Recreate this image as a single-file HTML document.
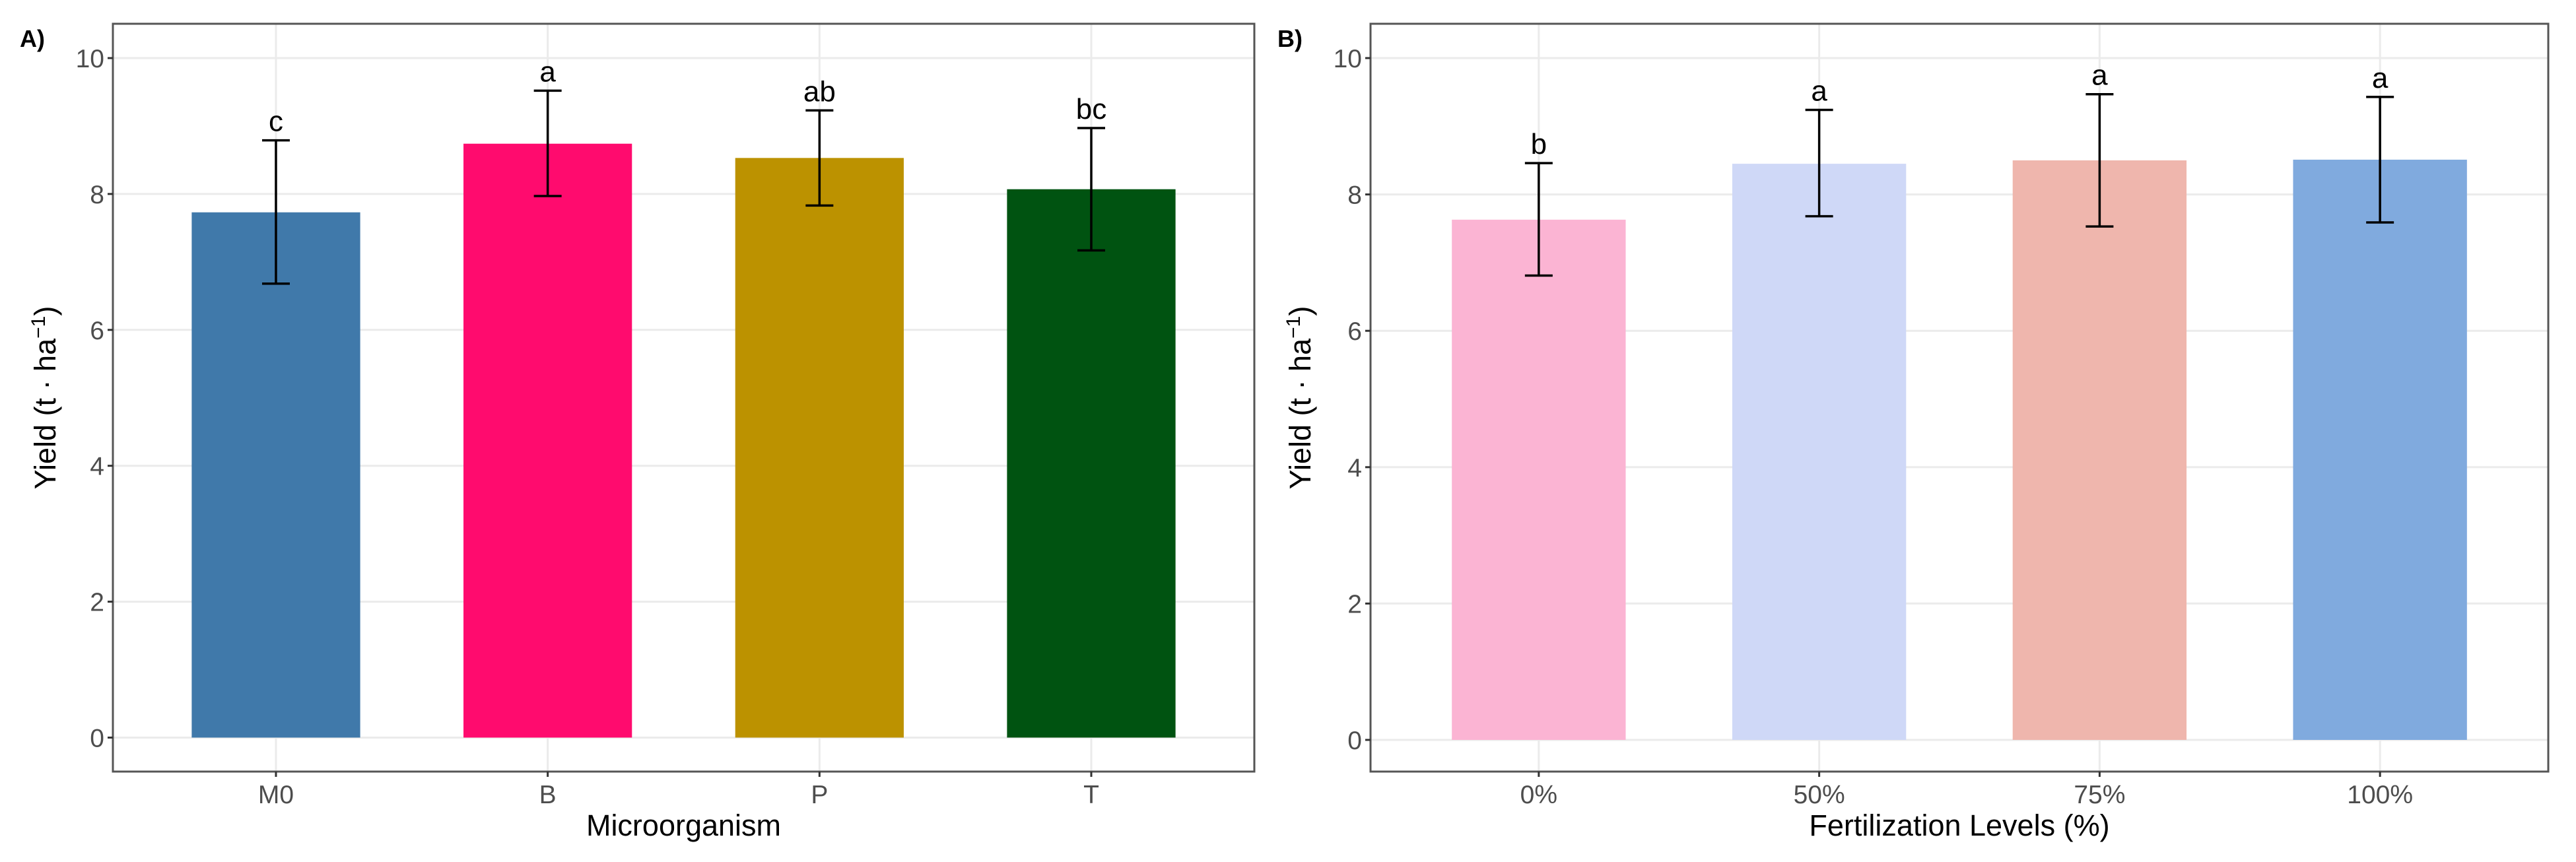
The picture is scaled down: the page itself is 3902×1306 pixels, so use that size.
<!DOCTYPE html>
<html><head><meta charset="utf-8"><style>
html,body{margin:0;padding:0;background:#fff;}
svg{display:block;font-family:"Liberation Sans",Arial,sans-serif;}
</style></head><body>
<svg id="fig" width="3902" height="1306" viewBox="0 0 3902 1306" xmlns="http://www.w3.org/2000/svg"></svg>
<script>
const catsA = ["M0","B","P","T"];
const meansA = [7.73, 8.74, 8.53, 8.07];
const upA = [8.79, 9.52, 9.23, 8.97];
const loA = [6.68, 7.97, 7.83, 7.17];
const lettersA = ["c","a","ab","bc"];
const colorsA = ["#4079aa","#ff0b6e","#bc9200","#005311"];

const catsB = ["0%","50%","75%","100%"];
const meansB = [7.63, 8.45, 8.50, 8.51];
const upB = [8.46, 9.24, 9.47, 9.43];
const loB = [6.81, 7.68, 7.53, 7.59];
const lettersB = ["b","a","a","a"];
const colorsB = ["#fbb4d3","#cfd8f7","#efb6ad","#80aade"];

const yTicks = [0,2,4,6,8,10];

const NS = "http://www.w3.org/2000/svg";
const svg = document.getElementById("fig");
function mk(tag, attrs, parent, text){
  const e = document.createElementNS(NS, tag);
  for (const k in attrs) e.setAttribute(k, attrs[k]);
  if (text !== undefined) e.textContent = text;
  (parent||svg).appendChild(e);
  return e;
}

function panel(cfg){
  const g = mk("g", {});
  
  
  const L=cfg.left, R=cfg.right, T=36, B=1169;
  const y0=cfg.y0, y10=cfg.y10;
  const yS = v => y0 + (y10 - y0) * v / 10;
  const n = cfg.cats.length;
  const step = (R - L) / (n + 0.2);
  const xS = i => L + step * (0.6 + i);
  const bw = step * 0.62;
  // grid
  for (const t of yTicks){
    const l = mk("line",{x1:L,x2:R,y1:yS(t),y2:yS(t),stroke:"#ebebeb","stroke-width":3},g);
    
    
  }
  for (let i=0;i<n;i++){
    const l = mk("line",{x1:xS(i),x2:xS(i),y1:T,y2:B,stroke:"#ebebeb","stroke-width":3},g);
    
    
  }
  // bars
  for (let i=0;i<n;i++){
    const r = mk("rect",{x:xS(i)-bw/2,y:yS(cfg.means[i]),width:bw,height:yS(0)-yS(cfg.means[i]),fill:cfg.colors[i]},g);
    
    
  }
  // error bars
  for (let i=0;i<n;i++){
    const x = xS(i);
    const eg = mk("g",{stroke:"#000","stroke-width":3.5},g);
    
    
    mk("line",{x1:x,x2:x,y1:yS(cfg.up[i]),y2:yS(cfg.lo[i])},eg);
    mk("line",{x1:x-21,x2:x+21,y1:yS(cfg.up[i]),y2:yS(cfg.up[i])},eg);
    mk("line",{x1:x-21,x2:x+21,y1:yS(cfg.lo[i]),y2:yS(cfg.lo[i])},eg);
    const t = mk("text",{x:x,y:yS(cfg.up[i])-14,"text-anchor":"middle","font-size":44,fill:"#000"},g,cfg.letters[i]);
    
    
  }
  // border
  const bd = mk("rect",{x:L,y:T,width:R-L,height:B-T,fill:"none",stroke:"#555","stroke-width":3},g);
  
  
  // y ticks
  for (const t of yTicks){
    mk("line",{x1:L-8,x2:L,y1:yS(t),y2:yS(t),stroke:"#333","stroke-width":3},g);
    const tx = mk("text",{x:L-13,y:yS(t)+14,"text-anchor":"end","font-size":39,fill:"#4d4d4d"},g,String(t));
    
    
  }
  for (let i=0;i<n;i++){
    mk("line",{x1:xS(i),x2:xS(i),y1:B,y2:B+8,stroke:"#333","stroke-width":3},g);
    const tx = mk("text",{x:xS(i),y:1217,"text-anchor":"middle","font-size":39,fill:"#4d4d4d"},g,cfg.cats[i]);
    
    
  }
  const xt = mk("text",{x:(L+R)/2,y:1266,"text-anchor":"middle","font-size":45,fill:"#000"},g,cfg.xtitle);
  
  
  const yt = mk("text",{transform:`translate(${cfg.ytx},${(T+B)/2}) rotate(-90)`,"text-anchor":"middle","font-size":45,fill:"#000"},g);
  
  
  mk("tspan",{},yt,"Yield (t · ha");
  mk("tspan",{dy:-16,"font-size":30},yt,"−1");
  mk("tspan",{dy:16},yt,")");
  const pl = mk("text",{x:cfg.plx,y:71,"font-size":36,"font-weight":"bold",fill:"#000"},g,cfg.label);
  
  
}

panel({id:"a",left:171,right:1900,y0:1117.5,y10:88,cats:catsA,means:meansA,up:upA,lo:loA,letters:lettersA,colors:colorsA,xtitle:"Microorganism",ytx:84,plx:30,label:"A)"});
panel({id:"b",left:2076,right:3860,y0:1121,y10:88,cats:catsB,means:meansB,up:upB,lo:loB,letters:lettersB,colors:colorsB,xtitle:"Fertilization Levels (%)",ytx:1985,plx:1935,label:"B)"});
</script>
</body></html>
